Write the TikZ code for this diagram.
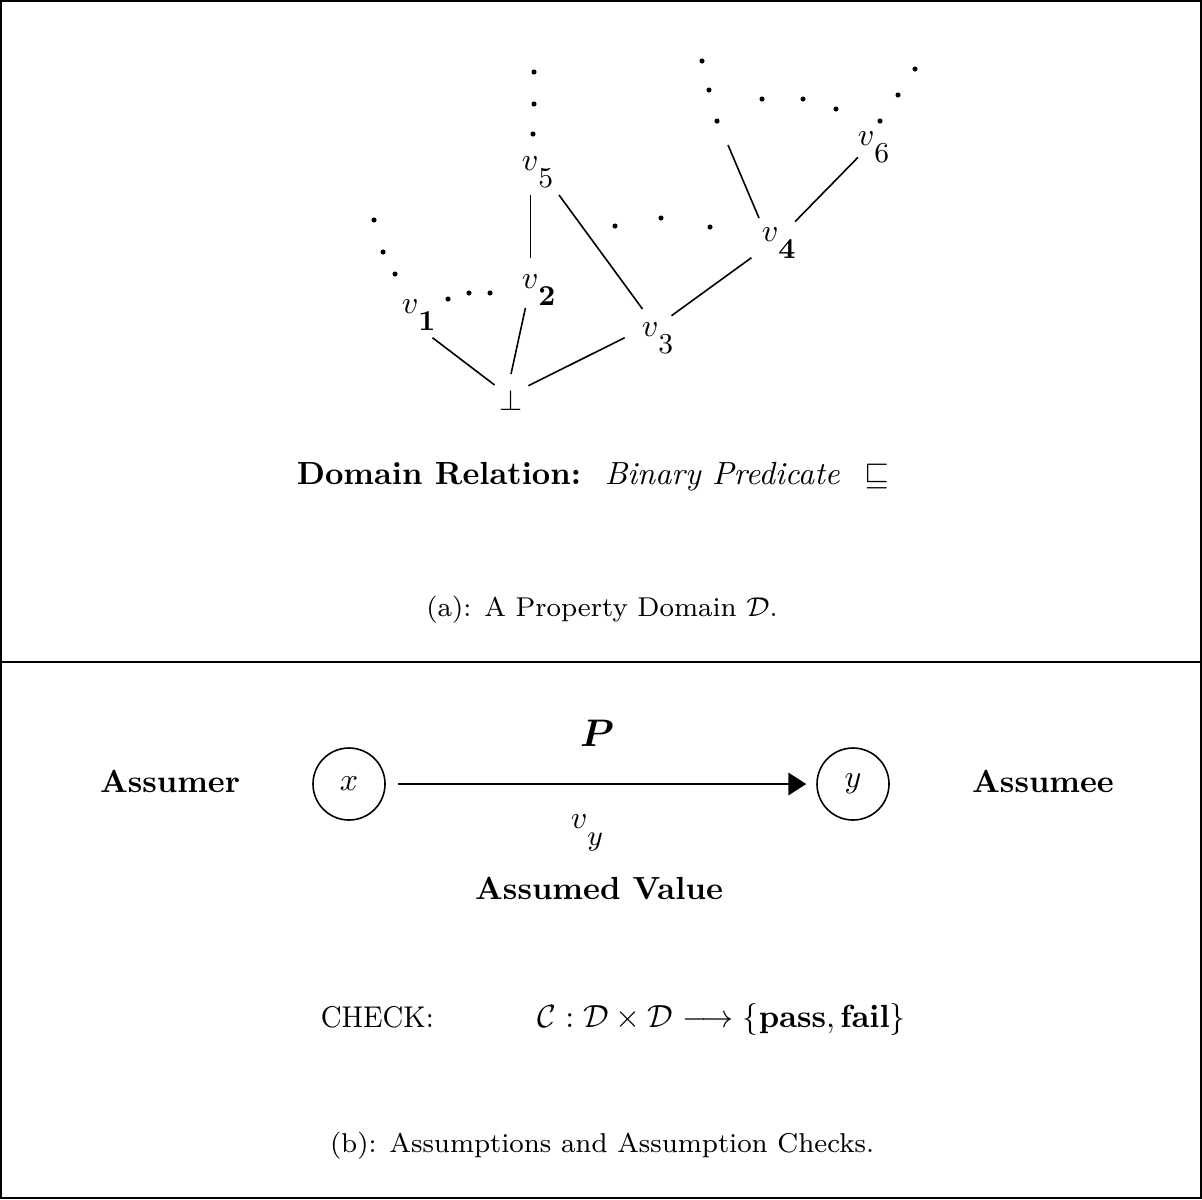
\documentclass[tikz,border=0pt]{standalone}
\usepackage{amsmath}
\usepackage{bm}
\usepackage{graphicx}
\usetikzlibrary{arrows.meta}
% lattice label: v with a dropped, nearly full-size index
\newcommand{\vlab}[1]{{\fontsize{10}{11}\selectfont$v$}\lower5.5pt\hbox{\fontsize{9}{10}\selectfont#1}}
% caption text in a small, wide design, stretched to a given width
\newcommand{\widecap}[2]{\resizebox{#1}{!}{\fontsize{8}{9}\selectfont#2}}

\begin{document}
\begin{tikzpicture}[x=0.3125pt,y=-0.3125pt,line width=0.5pt,>=Stealth,
  lab/.style={inner sep=0pt,anchor=base west},
  state/.style={circle,draw,minimum size=22.5pt,inner sep=0pt}]
\useasboundingbox (0,0) rectangle (1202,1199);
% dot radius
\def\dotr{0.8pt}
% ---------- frame and divider ----------
\draw[line width=0.6pt] (1,1) rectangle (1201,1198);
\draw[line width=0.6pt] (1,662) -- (1201,662);
% ---------- lattice labels ----------
\node[lab] (v1) at (401,313) {\vlab{\textbf{1}}};
\node[lab] (v2) at (521,288) {\vlab{\textbf{2}}};
\node[lab] (v3) at (641,336) {\vlab{3}};
\node[lab] (v4) at (761,241) {\vlab{\textbf{4}}};
\node[lab] (v5) at (521,170) {\vlab{5}};
\node[lab] (v6) at (857,145) {\vlab{6}};
\node[inner sep=0pt,anchor=base] (bot) at (511,410) {\small$\perp$};
\coordinate (v4top) at (728,145);
% ---------- lattice edges ----------
\draw ([shift={(31.5,24.7)}]v1.base west) -- ([shift={(-16.4,-25)}]bot.base);
\draw ([shift={(4.4,20)}]v2.base west) -- ([shift={(0,-36)}]bot.base);
\draw ([shift={(-16.3,1.7)}]v3.base west) -- ([shift={(17.4,-24.3)}]bot.base);
\draw ([shift={(9.6,25)}]v5.base west) -- ([shift={(9.6,-30)}]v2.base west);
\draw ([shift={(38,25)}]v5.base west) -- ([shift={(1.5,-27)}]v3.base west);
\draw ([shift={(30.5,-20.3)}]v3.base west) -- ([shift={(-9.6,16.7)}]v4.base west);
\draw ([shift={(34,-19.3)}]v4.base west) -- ([shift={(1,12.3)}]v6.base west);
\draw ([shift={(-2,-23)}]v4.base west) -- (v4top);
% ---------- dots (continuations) ----------
\fill (534,72) circle[radius=\dotr] (534,104) circle[radius=\dotr] (533,134) circle[radius=\dotr];
\fill (374,220) circle[radius=\dotr] (383,252) circle[radius=\dotr] (395,274) circle[radius=\dotr];
\fill (448,299) circle[radius=\dotr] (469,293) circle[radius=\dotr] (490,293) circle[radius=\dotr];
\fill (615,226) circle[radius=\dotr] (661,218) circle[radius=\dotr] (710,227) circle[radius=\dotr];
\fill (702,61) circle[radius=\dotr] (709,90) circle[radius=\dotr] (717,121) circle[radius=\dotr];
\fill (762,99) circle[radius=\dotr] (803,99) circle[radius=\dotr] (836,109) circle[radius=\dotr];
\fill (880,121) circle[radius=\dotr] (898,95) circle[radius=\dotr] (915,69) circle[radius=\dotr];
% ---------- domain relation and caption (a) ----------
\node[lab] (rel) at (296,484) {\textbf{Domain Relation:}};
\node[lab] (pred) at (604,484) {\textit{Binary Predicate}};
\node[lab] (sqs) at (864,484) {$\sqsubseteq$};
\node[anchor=base] (capa) at (602,616) {\widecap{109.7pt}{(a): A Property Domain $\mathcal{D}$.}};
% ---------- assumption x -> y ----------
\node[state] (x) at (349,784) {$x$};
\node[state] (y) at (853,784) {$y$};
\draw[-{Triangle[length=5.6pt,width=7pt]},line width=0.6pt,shorten <=3.75pt,shorten >=3.1pt] (x) -- (y);
\node[anchor=base] (P) at (597,746) {\large$\boldsymbol{P}$};
\node[lab] (vy) at (570,828) {\vlab{$y$}};
\node[anchor=base] (assumer) at (170,792) {\textbf{Assumer}};
\node[anchor=base] (assumee) at (1043,792) {\textbf{Assumee}};
\node[anchor=base] (value) at (599,899) {\textbf{Assumed Value}};
% ---------- check function and caption (b) ----------
\node[lab] (check) at (320,1027) {\resizebox{35.3pt}{6.6pt}{\fontsize{8}{9}\selectfont CHECK:}};
\node[lab] (cfun) at (537,1027) {$\mathcal{C}:\mathcal{D}\times\mathcal{D}\longrightarrow\{\mathbf{pass},\mathbf{fail}\}$};
\node[anchor=base] (capb) at (602,1152) {\widecap{170pt}{(b): Assumptions and Assumption Checks.}};
\end{tikzpicture}
\end{document}
